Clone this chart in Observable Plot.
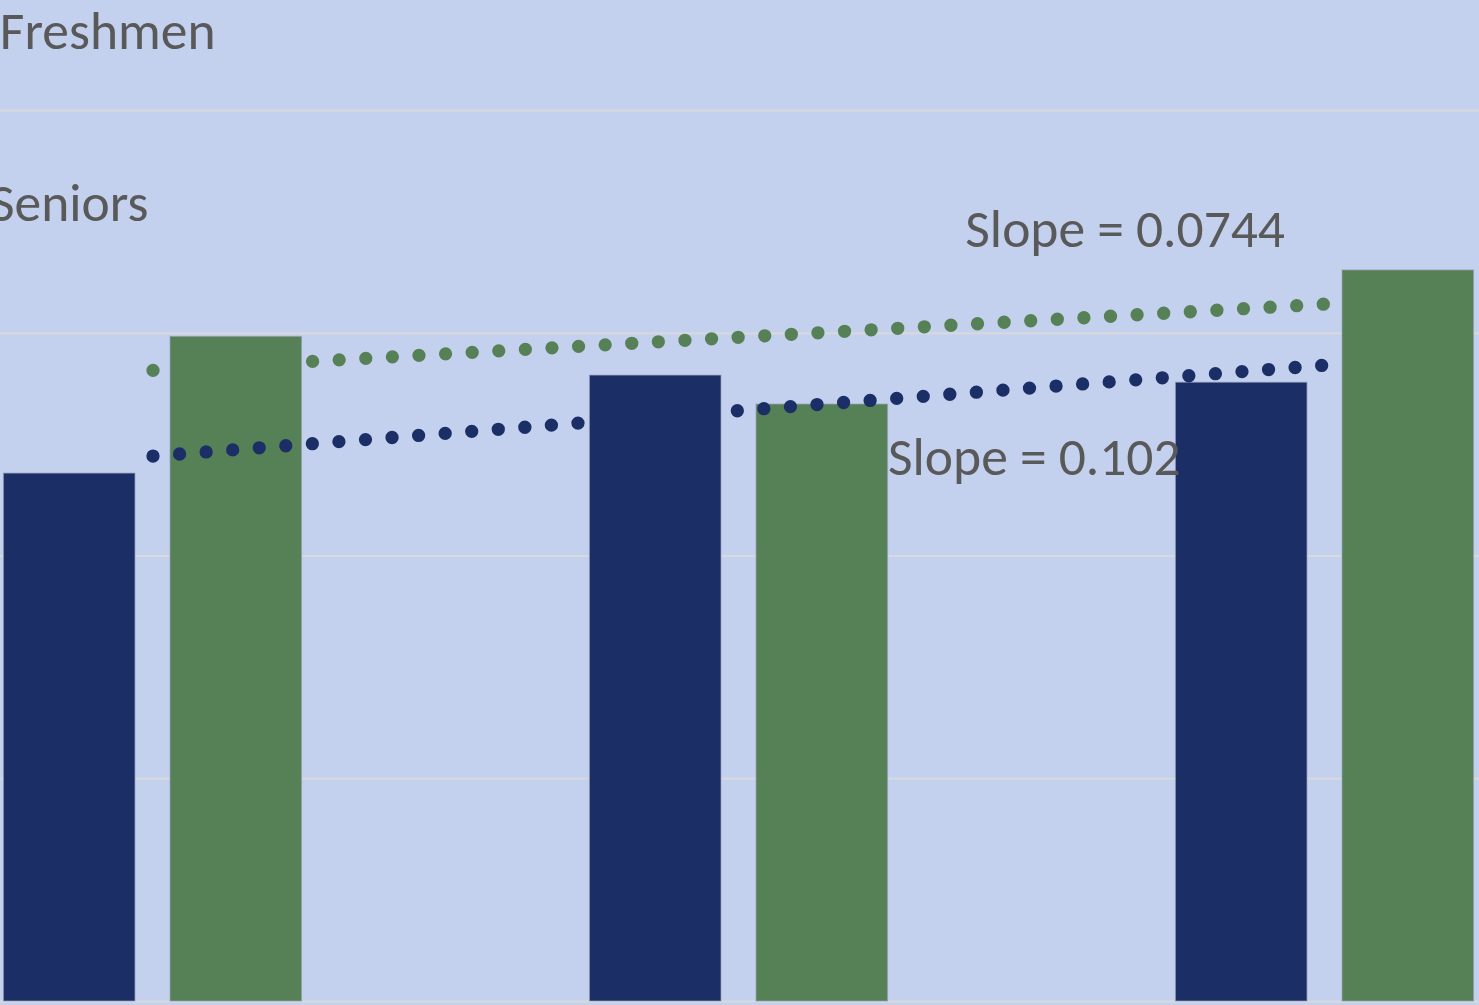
<!DOCTYPE html>
<html>
<head>
<meta charset="utf-8">
<script src="https://cdn.jsdelivr.net/npm/d3@7"></script>
<script src="https://cdn.jsdelivr.net/npm/@observablehq/plot@0.6"></script>
<style>
  html, body { margin: 0; padding: 0; background: #c3d0ee; overflow: hidden; }
  #chart svg { display: block; }
</style>
</head>
<body>
<div id="chart"></div>
<script>
// Category positions (one cluster per period) and the two student groups
const periods = [1, 2, 3];
const series = ["Freshmen", "Seniors"];
const freshmen = [1.185, 1.405, 1.389];
const seniors = [1.492, 1.340, 1.641];
const slopes = [0.102, 0.0744];
const yTicks = [0, 0.5, 1, 1.5, 2];
const colors = ["#1b2f66", "#568056"];

// Clustered-bar geometry, in category units
const barWidth = 0.2245;
const halfGap = 0.0299;

const valuesBySeries = [freshmen, seniors];

const bars = [];
series.forEach((s, si) => {
  periods.forEach((p, pi) => {
    const x1 = si === 0 ? p - halfGap - barWidth : p + halfGap;
    bars.push({series: s, x1, x2: x1 + barWidth, value: valuesBySeries[si][pi]});
  });
});

// Linear trendlines: slope as labelled, through the series mean
const trends = [];
series.forEach((s, si) => {
  const mx = d3.mean(periods);
  const my = d3.mean(valuesBySeries[si]);
  for (const p of [periods[0], periods[periods.length - 1]]) {
    trends.push({series: s, x: p, y: my + slopes[si] * (p - mx)});
  }
});
const trendEnd = s => trends.filter(d => d.series === s).slice(-1);

const font = "Carlito, Lato, 'Open Sans', sans-serif";
const fontSize = 53.5;
const textColor = "#595959";

const chart = Plot.plot({
  width: 1479,
  height: 1005,
  margin: 0,
  x: {domain: [1, 3], range: [152.5, 1324.5], axis: null},
  y: {domain: [0, 2], range: [1001, 110], axis: null},
  color: {domain: series, range: colors},
  style: {background: "#c3d0ee", fontFamily: font},
  marks: [
    Plot.ruleY(yTicks, {stroke: "#d9d9d9", strokeWidth: 2}),
    Plot.rectY(bars, {
      x1: "x1", x2: "x2", y1: 0, y2: "value", fill: "series",
      stroke: "#96a0b6", strokeWidth: 1, strokeOpacity: 0.7
    }),
    Plot.line(trends, {
      x: "x", y: "y", z: "series", stroke: "series",
      strokeWidth: 13.3, strokeDasharray: "0 26.64", strokeLinecap: "round"
    }),
    Plot.text(trendEnd("Seniors"), {
      x: "x", y: "y", text: () => `Slope = ${slopes[1]}`,
      textAnchor: "end", lineAnchor: "bottom", dx: -40, dy: -57,
      fill: textColor, fontSize, fontFamily: font
    }),
    Plot.text(trendEnd("Freshmen"), {
      x: "x", y: "y", text: () => `Slope = ${slopes[0]}`,
      textAnchor: "start", lineAnchor: "bottom", dx: -437, dy: 110,
      fill: textColor, fontSize, fontFamily: font
    }),
    // Legend entries
    Plot.text([series[0]], {
      text: d => d, frameAnchor: "top-left", textAnchor: "end", lineAnchor: "bottom",
      dx: 215, dy: 48, fill: textColor, fontSize, fontFamily: font
    }),
    Plot.text([series[1]], {
      text: d => d, frameAnchor: "top-left", textAnchor: "end", lineAnchor: "bottom",
      dx: 148, dy: 220, fill: textColor, fontSize, fontFamily: font
    })
  ]
});
document.getElementById("chart").append(chart);
</script>
</body>
</html>
